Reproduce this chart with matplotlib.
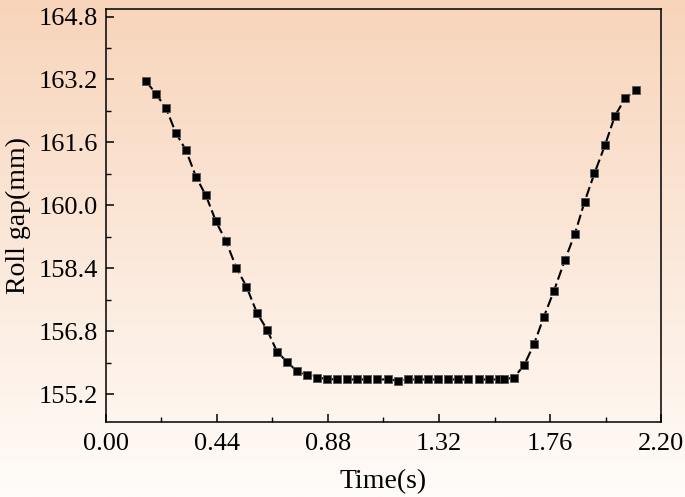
import numpy as np
import matplotlib
matplotlib.use("Agg")
import matplotlib.pyplot as plt
from matplotlib.ticker import MultipleLocator, FormatStrFormatter

time_s = [0.159, 0.198, 0.238, 0.277, 0.317, 0.357, 0.396, 0.436, 0.476, 0.517,
          0.557, 0.598, 0.638, 0.678, 0.717, 0.757, 0.797, 0.836, 0.876, 0.916,
          0.955, 0.995, 1.034, 1.074, 1.118, 1.157, 1.197, 1.237, 1.276, 1.316,
          1.356, 1.395, 1.435, 1.478, 1.518, 1.558, 1.578, 1.617, 1.657, 1.696,
          1.736, 1.776, 1.819, 1.859, 1.897, 1.936, 1.978, 2.017, 2.058, 2.099]
roll_gap = [163.16, 162.83, 162.47, 161.84, 161.40, 160.72, 160.25, 159.59, 159.08, 158.41,
            157.93, 157.27, 156.84, 156.28, 156.02, 155.78, 155.69, 155.62, 155.58, 155.57,
            155.57, 155.57, 155.57, 155.57, 155.57, 155.54, 155.57, 155.57, 155.57, 155.57,
            155.57, 155.57, 155.57, 155.57, 155.57, 155.57, 155.57, 155.62, 155.93, 156.46,
            157.17, 157.83, 158.61, 159.28, 160.09, 160.81, 161.53, 162.27, 162.72, 162.93]

x_ticks = [0.00, 0.44, 0.88, 1.32, 1.76, 2.20]
y_ticks = [155.2, 156.8, 158.4, 160.0, 161.6, 163.2, 164.8]

plt.rcParams['font.family'] = ['Liberation Serif', 'DejaVu Serif']

fig = plt.figure(figsize=(6.85, 4.97), dpi=100)

# background gradient
bg = fig.add_axes([0, 0, 1, 1], zorder=-10)
top = np.array([248, 212, 186]) / 255.0
bot = np.array([255, 252, 249]) / 255.0
n = 256
f = np.linspace(0, 1, n)[:, None]
grad = top[None, :] * (1 - f) + bot[None, :] * f
img = np.repeat(grad[:, None, :], 2, axis=1)
bg.imshow(img, aspect='auto', extent=[0, 1, 0, 1], origin='upper')
bg.set_axis_off()

ax = fig.add_axes([0.1547, 0.151, 0.965 - 0.1547, 0.981 - 0.151])
ax.set_facecolor('none')

ax.plot(time_s, roll_gap, linestyle=(0, (5, 2)), color='black', linewidth=1.5,
        marker='s', markersize=6.4, markerfacecolor='black',
        markeredgecolor='#555555', markeredgewidth=0.6)

ax.set_xlim(0.0, 2.20)
ax.set_ylim(154.49, 164.98)
ax.set_xticks(x_ticks)
ax.set_yticks(y_ticks)
ax.xaxis.set_minor_locator(MultipleLocator(0.22))
ax.yaxis.set_minor_locator(MultipleLocator(0.8))
ax.xaxis.set_major_formatter(FormatStrFormatter('%.2f'))
ax.yaxis.set_major_formatter(FormatStrFormatter('%.1f'))

ax.tick_params(axis='both', which='major', direction='in', length=6, width=1.1,
               labelsize=19, top=False, right=False)
ax.tick_params(axis='x', which='major', pad=8)
ax.tick_params(axis='y', which='major', pad=6)
ax.tick_params(axis='both', which='minor', direction='in', length=3.5, width=1.0,
               top=False, right=False)
for s in ax.spines.values():
    s.set_linewidth(1.1)

ax.set_xlabel('Time(s)', fontsize=20, labelpad=10)
ax.set_ylabel('Roll gap(mm)', fontsize=20, labelpad=5)

fig.savefig('out.png', dpi=100)
